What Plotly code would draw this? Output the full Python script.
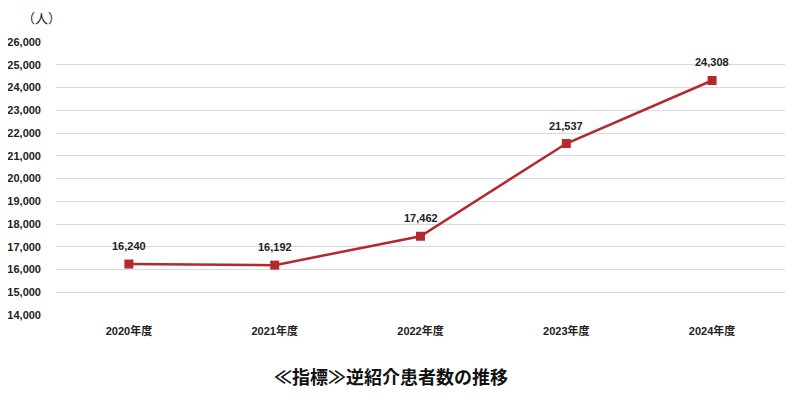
import plotly.graph_objects as go

categories = ["2020年度", "2021年度", "2022年度", "2023年度", "2024年度"]
values = [16240, 16192, 17462, 21537, 24308]
y_ticks = list(range(14000, 26001, 1000))
title_text = "≪指標≫逆紹介患者数の推移"
unit_text = "（人）"

font_family = "Liberation Sans, Arial, Noto Sans CJK JP, sans-serif"
cjk_family = "Noto Sans CJK JP, sans-serif"
color = "#b3292e"

fig = go.Figure()
fig.add_trace(go.Scatter(
    x=categories, y=values, mode="lines+markers",
    line=dict(color=color, width=2.5),
    marker=dict(symbol="square", size=9, color=color),
    cliponaxis=False, hoverinfo="skip",
))

annotations = [
    dict(x=c, y=v, text=f"{v:,}", xref="x", yref="y", showarrow=False,
         yshift=18, font=dict(size=11, color="#222222", family=font_family, weight="bold"))
    for c, v in zip(categories, values)
]
annotations += [
    dict(text=unit_text, xref="paper", yref="paper", x=0.01, y=1.088,
         xanchor="right", yanchor="middle", showarrow=False,
         font=dict(size=13, color="#222222", family=cjk_family)),
    dict(text=title_text, xref="paper", yref="paper", x=0.4595, y=-0.225,
         xanchor="center", yanchor="middle", showarrow=False,
         font=dict(size=18, color="#111111", family=cjk_family, weight="bold")),
]

fig.update_layout(
    width=800, height=400,
    margin=dict(l=48, r=23, t=34, b=93, autoexpand=False),
    paper_bgcolor="white", plot_bgcolor="white",
    showlegend=False,
    font=dict(family=font_family, color="#222222"),
    xaxis=dict(type="category", range=[-0.5, 4.5], showgrid=False, showline=False,
               automargin=False,
               ticks="", tickfont=dict(size=11, weight="bold"), ticklabelstandoff=8),
    yaxis=dict(range=[14000, 26000], tickvals=y_ticks,
               ticktext=[f"{v:,}" for v in y_ticks], automargin=False,
               showgrid=True, gridcolor="#d9d9d9", gridwidth=1,
               zeroline=False, showline=False, ticks="",
               tickfont=dict(size=11, weight="bold"), ticklabelstandoff=14),
    annotations=annotations,
)

fig.write_html("out.html")
